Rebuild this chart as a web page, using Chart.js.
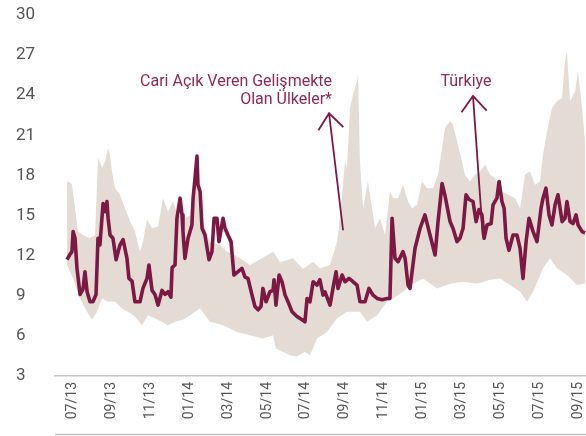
<!DOCTYPE html>
<html>
<head>
<meta charset="utf-8">
<script src="https://cdn.jsdelivr.net/npm/chart.js@4"></script>
<style>
  body { margin: 0; background: #fff; }
  canvas { display: block; }
</style>
</head>
<body>
<canvas id="volChart" width="586" height="436"></canvas>
<script>
// x values are months counted from 07/2013 (0 = 07/13, 2 = 09/13 ...)
const tickMonths = [0, 2, 4, 6, 8, 10, 12, 14, 16, 18, 20, 22, 24, 26];
const tickLabels = ['07/13', '09/13', '11/13', '01/14', '03/14', '05/14', '07/14',
                    '09/14', '11/14', '01/15', '03/15', '05/15', '07/15', '09/15'];

// Türkiye
const turkeyMonths = [
  -0.28, -0.13, -0.03, 0.03, 0.13, 0.23, 0.39, 0.54, 0.64, 0.75,
  0.90, 1.05, 1.21, 1.31, 1.41, 1.57, 1.67, 1.77, 1.83, 1.93,
  2.08, 2.24, 2.44, 2.60, 2.80, 2.90, 3.06, 3.21, 3.47, 3.62,
  3.83, 3.93, 4.09, 4.24, 4.40, 4.60, 4.76, 4.91, 5.06, 5.12,
  5.27, 5.37, 5.53, 5.63, 5.68, 5.78, 5.94, 6.14, 6.20, 6.30,
  6.40, 6.45, 6.56, 6.66, 6.81, 6.92, 7.02, 7.17, 7.28, 7.43,
  7.53, 7.74, 7.84, 7.99, 8.15, 8.30, 8.51, 8.71, 8.87, 9.02,
  9.23, 9.38, 9.54, 9.69, 9.79, 9.95, 10.15, 10.31, 10.36, 10.46,
  10.62, 10.77, 10.93, 11.08, 11.29, 11.54, 11.80, 11.95, 12.06, 12.21,
  12.37, 12.57, 12.72, 12.88, 12.98, 13.24, 13.39, 13.55, 13.65, 13.86,
  14.01, 14.22, 14.42, 14.63, 14.78, 15.04, 15.24, 15.45, 15.66, 15.91,
  16.17, 16.32, 16.43, 16.58, 16.74, 16.99, 17.10, 17.25, 17.35, 17.61,
  17.87, 18.12, 18.38, 18.64, 18.79, 19.00, 19.15, 19.31, 19.41, 19.56,
  19.77, 19.92, 20.08, 20.23, 20.39, 20.59, 20.75, 20.90, 21.05, 21.16,
  21.31, 21.52, 21.62, 21.82, 21.93, 22.08, 22.19, 22.29, 22.44, 22.65,
  22.85, 23.01, 23.16, 23.32, 23.47, 23.68, 23.88, 24.09, 24.19, 24.34,
  24.50, 24.65, 24.81, 24.96, 25.17, 25.32, 25.42, 25.58, 25.73, 25.89,
  25.99, 26.20, 26.35
];
const turkeyValues = [
  11.7, 12.1, 12.3, 13.8, 13.3, 11.05, 9.1, 9.5, 10.8, 9.3,
  8.55, 8.55, 9.1, 13.3, 12.8, 15.9, 15.3, 16.05, 14.8, 13.55,
  13.3, 11.7, 12.8, 13.2, 11.8, 10.3, 10.1, 8.55, 8.55, 9.55,
  10.3, 11.3, 9.4, 9.1, 8.3, 9.4, 9.1, 9.3, 8.9, 11.1,
  11.3, 14.8, 16.3, 15.05, 13.8, 11.8, 13.3, 14.3, 16.3, 17.8,
  19.45, 17.3, 16.8, 14.05, 13.55, 12.55, 11.7, 12.3, 14.8, 14.8,
  13.05, 14.8, 14.05, 13.55, 13.05, 10.55, 10.8, 11.05, 10.4, 10.3,
  9.05, 8.2, 7.95, 8.2, 9.55, 8.55, 9.3, 9.4, 10.2, 8.3,
  10.55, 10.05, 9.05, 8.55, 7.8, 7.45, 7.2, 7.05, 8.8, 8.55,
  10.05, 9.8, 10.2, 9.05, 9.3, 8.3, 9.55, 10.8, 9.55, 10.55,
  10.05, 10.3, 10.05, 9.8, 8.55, 8.55, 9.55, 9.05, 8.8, 8.7,
  8.8, 8.8, 14.8, 11.8, 11.55, 12.3, 11.8, 9.8, 9.55, 12.55,
  14.05, 15.05, 13.55, 12.05, 14.5, 17.4, 16.5, 15.3, 14.55, 14.05,
  13.05, 13.3, 14.05, 16.55, 16.2, 16.05, 14.55, 15.45, 15.05, 13.3,
  14.3, 14.4, 15.8, 16.3, 17.55, 16.05, 15.55, 13.3, 12.4, 13.55,
  13.55, 12.55, 10.3, 13.05, 14.8, 13.8, 13.05, 15.55, 16.3, 17.05,
  15.05, 14.3, 15.8, 16.55, 14.55, 14.8, 16.05, 14.55, 14.4, 15.05,
  14.3, 13.8, 13.7
];

// Cari açık veren gelişmekte olan ülkeler: upper edge of the range
const highMonths = [
  -0.28, -0.13, -0.03, 0.13, 0.28, 0.54, 0.90, 1.16, 1.31, 1.52,
  1.67, 1.83, 1.93, 2.03, 2.19, 2.44, 2.70, 2.96, 3.21, 3.47,
  3.62, 3.83, 4.09, 4.40, 4.65, 4.91, 5.17, 5.42, 5.78, 6.04,
  6.30, 6.56, 6.71, 7.07, 7.58, 7.94, 8.35, 9.13, 10.31, 10.67,
  11.34, 11.85, 12.37, 12.72, 13.24, 13.60, 13.75, 14.01, 14.11, 14.27,
  14.42, 14.63, 14.68, 14.78, 14.94, 15.19, 15.40, 15.55, 15.81, 16.07,
  16.32, 16.48, 16.74, 16.99, 17.25, 17.46, 17.71, 17.97, 18.23, 18.54,
  18.79, 19.00, 19.15, 19.41, 19.56, 19.77, 20.03, 20.18, 20.44, 20.69,
  20.95, 21.21, 21.47, 21.72, 22.08, 22.39, 22.75, 23.01, 23.26, 23.52,
  23.78, 24.04, 24.19, 24.40, 24.65, 24.91, 25.17, 25.32, 25.42, 25.58,
  25.84, 25.99, 26.20, 26.35
];
const highValues = [
  17.55, 17.5, 17.3, 15.55, 13.8, 13.55, 13.3, 13.55, 19.3, 18.55,
  19.05, 20.05, 19.5, 18.3, 17.05, 16.55, 15.55, 14.55, 13.8, 12.3,
  13.05, 14.7, 14.05, 14.2, 16.3, 15.3, 16.05, 15.05, 14.8, 15.0,
  18.0, 16.5, 14.55, 13.05, 12.8, 12.3, 12.05, 11.3, 12.3, 11.5,
  11.8, 11.0, 11.55, 11.05, 11.3, 13.05, 14.8, 19.05, 18.5, 23.05,
  24.05, 25.05, 25.55, 19.05, 15.55, 17.55, 15.55, 14.05, 14.8, 13.55,
  16.8, 16.3, 16.3, 17.3, 16.05, 15.55, 15.8, 17.55, 17.05, 17.05,
  18.05, 20.05, 21.55, 22.05, 21.8, 20.55, 19.05, 18.05, 17.55, 18.05,
  18.3, 18.8, 18.05, 17.8, 16.8, 16.55, 16.3, 15.55, 18.05, 18.3,
  17.3, 17.55, 19.55, 21.3, 23.05, 23.55, 23.8, 26.55, 27.3, 23.55,
  24.3, 25.8, 23.05, 20.55
];

// lower edge of the range
const lowMonths = [
  -0.28, 0.03, 0.39, 0.75, 1.00, 1.26, 1.52, 1.83, 2.19, 2.54,
  2.85, 3.21, 3.57, 3.88, 4.24, 4.60, 4.91, 5.27, 5.68, 6.04,
  6.56, 7.07, 7.74, 8.46, 9.13, 9.79, 10.31, 10.46, 10.82, 11.18,
  11.54, 11.95, 12.21, 12.57, 13.08, 13.60, 14.11, 14.78, 15.14, 15.66,
  16.17, 16.48, 16.99, 17.51, 18.02, 18.74, 19.41, 20.08, 20.80, 21.47,
  21.98, 22.49, 23.01, 23.37, 23.68, 24.19, 24.55, 24.91, 25.42, 25.94,
  26.35
];
const lowValues = [
  11.3, 10.3, 8.8, 7.8, 7.2, 7.8, 8.8, 8.55, 8.55, 8.05,
  7.8, 7.45, 6.8, 7.55, 7.3, 7.05, 6.8, 7.05, 7.2, 7.55,
  8.05, 7.05, 6.8, 6.3, 6.05, 5.8, 6.05, 5.05, 4.8, 4.55,
  4.45, 4.8, 4.55, 5.8, 6.3, 7.3, 7.8, 7.8, 7.05, 7.55,
  8.55, 8.8, 9.3, 9.9, 10.3, 9.55, 9.9, 10.05, 9.9, 10.2,
  10.3, 9.8, 9.3, 8.55, 9.3, 11.05, 11.8, 11.05, 10.55, 9.8,
  9.9
];

const groupNote = ['Cari Açık Veren Gelişmekte', 'Olan Ülkeler*'];
const turkeyNote = 'Türkiye';

const lineColor = '#7c1843';
const noteColor = '#8e2856';
const bandColor = '#e4dcd4';

function toPoints(xs, ys) {
    return xs.map((m, i) => ({ x: m, y: ys[i] }));
}

function drawArrow(ctx, x0, y0, x1, y1) {
    const ang = Math.atan2(y0 - y1, x0 - x1);
    const len = 20, spread = 0.68;
    ctx.beginPath();
    ctx.moveTo(x0, y0);
    ctx.lineTo(x1, y1);
    ctx.moveTo(x1 + len * Math.cos(ang - spread), y1 + len * Math.sin(ang - spread));
    ctx.lineTo(x1, y1);
    ctx.lineTo(x1 + len * Math.cos(ang + spread), y1 + len * Math.sin(ang + spread));
    ctx.stroke();
}

// labels and arrows, placed in data units
const notesPlugin = {
    id: 'notes',
    afterDatasetsDraw(chart) {
        const { ctx, scales: { x, y } } = chart;
        ctx.save();
        ctx.fillStyle = noteColor;
        ctx.strokeStyle = lineColor;
        ctx.lineWidth = 1.8;
        ctx.font = '16px Roboto';
        ctx.textBaseline = 'middle';

        ctx.textAlign = 'right';
        ctx.fillText(groupNote[0], x.getPixelForValue(13.34), y.getPixelForValue(25.0));
        ctx.fillText(groupNote[1], x.getPixelForValue(13.34), y.getPixelForValue(23.65));
        drawArrow(ctx, x.getPixelForValue(13.91), y.getPixelForValue(13.9),
                  x.getPixelForValue(13.19), y.getPixelForValue(22.65));

        ctx.textAlign = 'center';
        ctx.fillText(turkeyNote, x.getPixelForValue(20.23), y.getPixelForValue(25.0));
        drawArrow(ctx, x.getPixelForValue(21.10), y.getPixelForValue(13.4),
                  x.getPixelForValue(20.59), y.getPixelForValue(23.95));

        // bottom rule under the date labels
        ctx.strokeStyle = '#c4c4c4';
        ctx.lineWidth = 1.5;
        ctx.beginPath();
        ctx.moveTo(chart.chartArea.left, chart.height - 1.5);
        ctx.lineTo(chart.width, chart.height - 1.5);
        ctx.stroke();
        ctx.restore();
    }
};

new Chart(document.getElementById('volChart'), {
    type: 'line',
    data: {
        datasets: [
            {
                label: 'Türkiye',
                data: toPoints(turkeyMonths, turkeyValues),
                borderColor: lineColor,
                borderWidth: 3.6,
                borderJoinStyle: 'round',
                pointRadius: 0,
                tension: 0,
                fill: false,
                order: 0
            },
            {
                label: 'high',
                data: toPoints(highMonths, highValues),
                borderWidth: 0,
                borderColor: bandColor,
                backgroundColor: bandColor,
                pointRadius: 0,
                tension: 0,
                fill: '+1',
                order: 1
            },
            {
                label: 'low',
                data: toPoints(lowMonths, lowValues),
                borderWidth: 0,
                borderColor: bandColor,
                pointRadius: 0,
                tension: 0,
                fill: false,
                order: 2
            }
        ]
    },
    options: {
        responsive: false,
        animation: false,
        devicePixelRatio: 1,
        layout: { padding: { left: 16, top: 15, right: 0, bottom: 0 } },
        plugins: {
            legend: { display: false },
            tooltip: { enabled: false }
        },
        scales: {
            x: {
                type: 'linear',
                min: -0.9,
                max: 26.4,
                afterBuildTicks: (scale) => {
                    scale.ticks = tickMonths.map(v => ({ value: v }));
                },
                afterFit: (scale) => {
                    scale.height = 60;
                    scale.paddingLeft = 0;
                    scale.paddingRight = 0;
                },
                grid: { display: false, drawTicks: false },
                border: { display: true, color: '#c4c4c4', width: 1.5 },
                ticks: {
                    autoSkip: false,
                    minRotation: 90,
                    maxRotation: 90,
                    padding: 6,
                    color: '#555',
                    font: { family: 'Roboto', size: 14 },
                    callback: (v) => tickLabels[tickMonths.indexOf(v)]
                }
            },
            y: {
                min: 3,
                max: 30,
                afterFit: (scale) => { scale.width = 39; },
                grid: { display: false, drawTicks: false },
                border: { display: false },
                ticks: {
                    stepSize: 3,
                    crossAlign: 'far',
                    color: '#555',
                    font: { family: 'Roboto', size: 17 }
                }
            }
        }
    },
    plugins: [notesPlugin]
});
</script>
</body>
</html>
